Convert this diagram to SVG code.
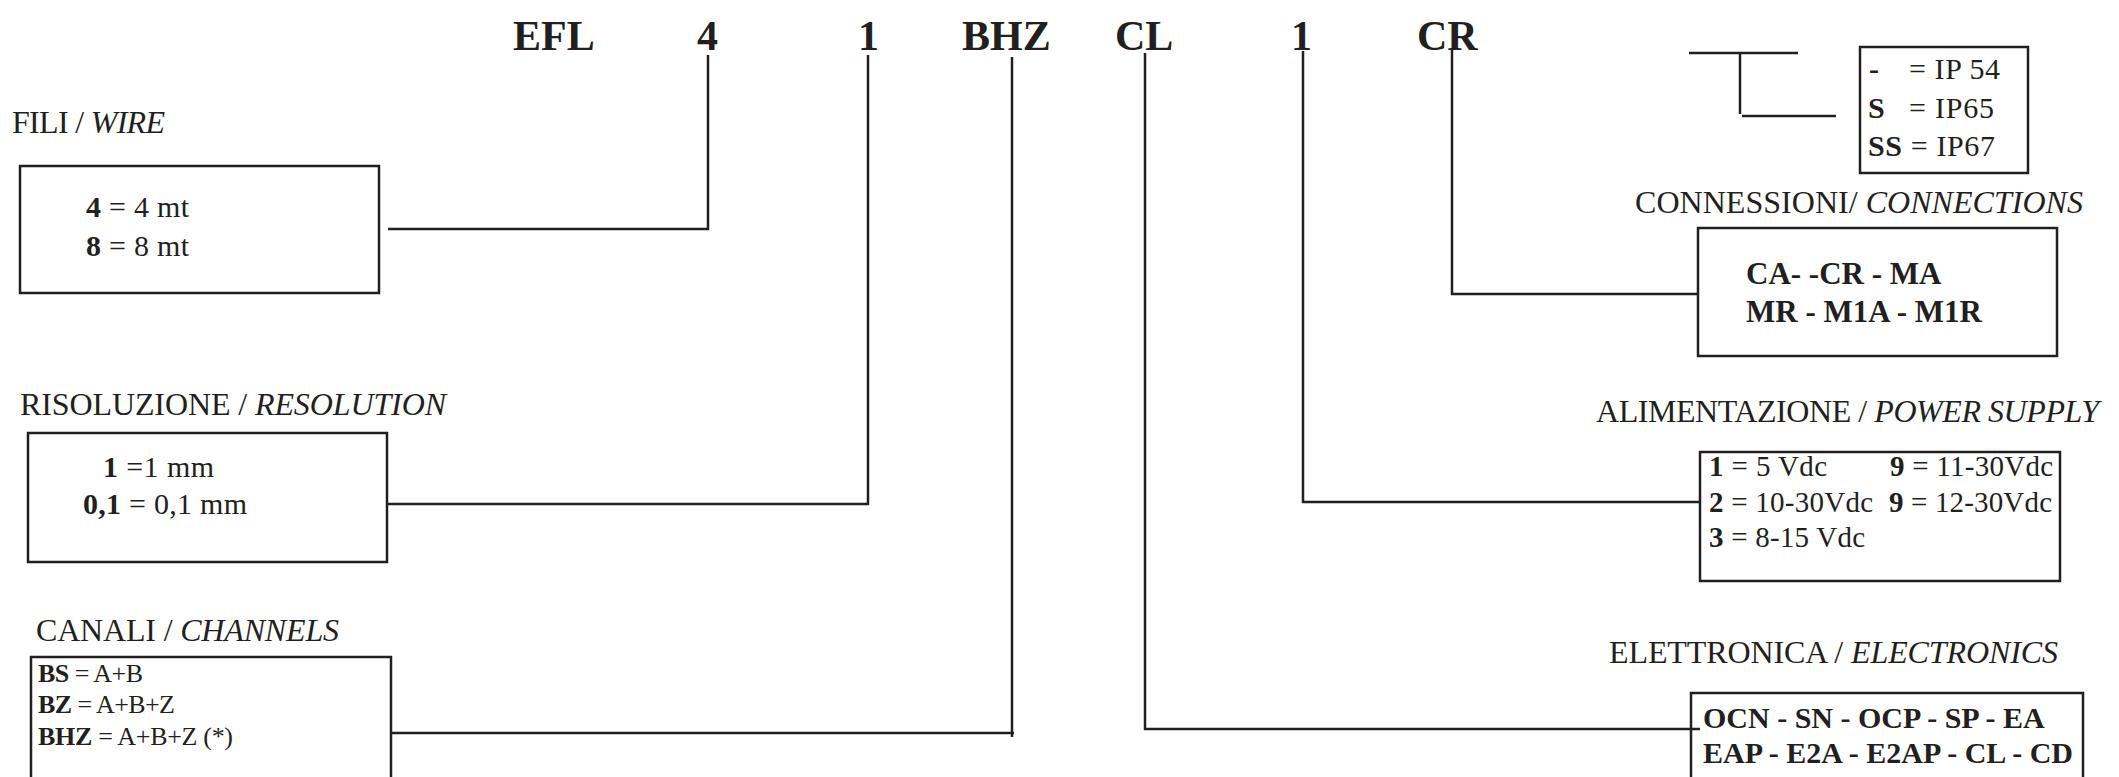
<svg xmlns="http://www.w3.org/2000/svg" width="2119" height="777" viewBox="0 0 2119 777">
<style>
text{font-family:"Liberation Serif","Times New Roman",serif;fill:#231f20}
.code{font-size:42px;font-weight:bold}
.hdr{font-size:32px}
.it{font-style:italic}
.b{font-weight:bold}
.box{fill:none;stroke:#231f20;stroke-width:2.5}
.ln{fill:none;stroke:#231f20;stroke-width:2.5}
.t30{font-size:30px}
.t26{font-size:26px}
.t29{font-size:29px}
.t31b{font-size:31px;font-weight:bold}
.t30b{font-size:30px;font-weight:bold}
</style>
<rect width="2119" height="777" fill="#fff"/>
<g id="title">
<text class="code" x="513" y="50">EFL</text>
<text class="code" x="697" y="50">4</text>
<text class="code" x="858" y="50">1</text>
<text class="code" x="962" y="50">BHZ</text>
<text class="code" x="1115" y="50">CL</text>
<text class="code" x="1291" y="50">1</text>
<text class="code" x="1417" y="50">CR</text>
</g>
<g id="connectors">
<polyline class="ln" points="388,229 708,229 708,55"/>
<polyline class="ln" points="387,504 868,504 868,55"/>
<polyline class="ln" points="391,733 1014,733"/>
<line class="ln" x1="1012" y1="57" x2="1012" y2="737"/>
<polyline class="ln" points="1145,53 1145,729 1700,729"/>
<polyline class="ln" points="1303,51 1303,502 1700,502"/>
<polyline class="ln" points="1452,48 1452,294 1698,294"/>
<line class="ln" x1="1689" y1="53" x2="1798" y2="53"/>
<line class="ln" x1="1740" y1="53" x2="1740" y2="114"/>
<line class="ln" x1="1742" y1="116" x2="1836" y2="116"/>
</g>
<g id="wire">
<text class="hdr" x="12" y="133" textLength="153">FILI / <tspan class="it">WIRE</tspan></text>
<rect class="box" x="20" y="166" width="359" height="127"/>
<text class="t30" x="86" y="217" textLength="103"><tspan class="b">4</tspan> = 4 mt</text>
<text class="t30" x="86" y="256" textLength="103"><tspan class="b">8</tspan> = 8 mt</text>
</g>
<g id="resolution">
<text class="hdr" x="20" y="415" textLength="426">RISOLUZIONE / <tspan class="it">RESOLUTION</tspan></text>
<rect class="box" x="28" y="433" width="359" height="129"/>
<text class="t30" x="103" y="477" textLength="111"><tspan class="b">1</tspan> =1 mm</text>
<text class="t30" x="83" y="514" textLength="164"><tspan class="b">0,1</tspan> = 0,1 mm</text>
</g>
<g id="channels">
<text class="hdr" x="36" y="641" textLength="303">CANALI / <tspan class="it">CHANNELS</tspan></text>
<rect class="box" x="31" y="657" width="360" height="140"/>
<text class="t26" x="38" y="682" textLength="105"><tspan class="b">BS</tspan> = A+B</text>
<text class="t26" x="38" y="713" textLength="137"><tspan class="b">BZ</tspan> = A+B+Z</text>
<text class="t26" x="38" y="745" textLength="195"><tspan class="b">BHZ</tspan>  = A+B+Z (*)</text>
</g>
<g id="protection">
<rect class="box" x="1860" y="47" width="168" height="126"/>
<text class="t30" x="1869" y="79"><tspan class="b">-</tspan></text>
<text class="t30" x="1909" y="79" textLength="91">= IP 54</text>
<text class="t30" x="1868" y="118"><tspan class="b">S</tspan></text>
<text class="t30" x="1909" y="118" textLength="85">= IP65</text>
<text class="t30" x="1868" y="156" textLength="127"><tspan class="b">SS</tspan> = IP67</text>
</g>
<g id="connections">
<text class="hdr" x="1635" y="213" textLength="448">CONNESSIONI/ <tspan class="it">CONNECTIONS</tspan></text>
<rect class="box" x="1698" y="228" width="359" height="128"/>
<text class="t31b" x="1746" y="284">CA- -CR - MA</text>
<text class="t31b" x="1746" y="322">MR - M1A - M1R</text>
</g>
<g id="power">
<text class="hdr" x="1596" y="422" textLength="503">ALIMENTAZIONE / <tspan class="it">POWER SUPPLY</tspan></text>
<rect class="box" x="1700" y="452" width="360" height="129"/>
<text class="t29" x="1709" y="476" textLength="118"><tspan class="b">1</tspan> = 5 Vdc</text>
<text class="t29" x="1890" y="476" textLength="163"><tspan class="b">9</tspan> = 11-30Vdc</text>
<text class="t29" x="1709" y="512" textLength="164"><tspan class="b">2</tspan> = 10-30Vdc</text>
<text class="t29" x="1889" y="512" textLength="163"><tspan class="b">9</tspan> = 12-30Vdc</text>
<text class="t29" x="1709" y="547" textLength="156"><tspan class="b">3</tspan> = 8-15 Vdc</text>
</g>
<g id="electronics">
<text class="hdr" x="1609" y="663" textLength="449">ELETTRONICA / <tspan class="it">ELECTRONICS</tspan></text>
<rect class="box" x="1691" y="693" width="392" height="110"/>
<text class="t30b" x="1703" y="728">OCN - SN - OCP - SP - EA</text>
<text class="t30b" x="1703" y="763">EAP - E2A - E2AP - CL - CD</text>
</g>
</svg>
